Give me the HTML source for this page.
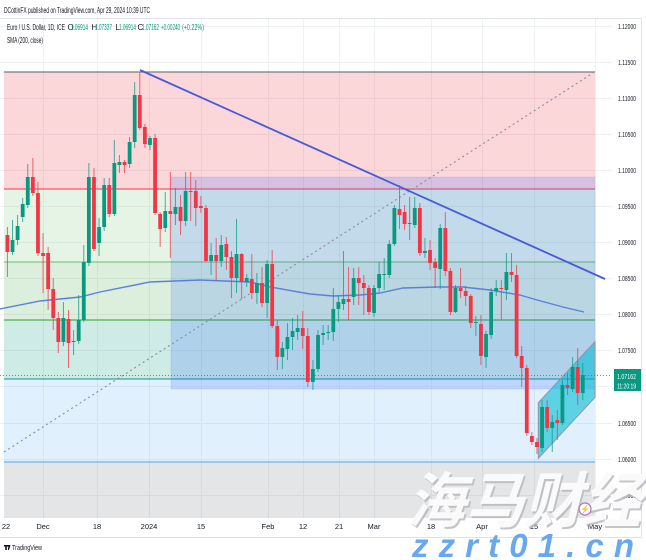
<!DOCTYPE html>
<html>
<head>
<meta charset="utf-8">
<style>
html,body{margin:0;padding:0;background:#fff;}
svg{display:block;font-family:"Liberation Sans",sans-serif;}
</style>
</head>
<body>
<svg id="s" width="646" height="560" viewBox="0 0 646 560" xmlns="http://www.w3.org/2000/svg">
<defs>
<clipPath id="pane"><rect x="0" y="18" width="612" height="500"/></clipPath>
</defs>
<rect x="0" y="0" width="646" height="560" fill="#fff"/>

<!-- grid -->
<g stroke="#eef0f4" stroke-width="1">
<line x1="0" y1="26.5" x2="612" y2="26.5"/>
<line x1="0" y1="62.5" x2="612" y2="62.5"/>
<line x1="0" y1="98.5" x2="612" y2="98.5"/>
<line x1="0" y1="134.5" x2="612" y2="134.5"/>
<line x1="0" y1="170.5" x2="612" y2="170.5"/>
<line x1="0" y1="206.5" x2="612" y2="206.5"/>
<line x1="0" y1="242.5" x2="612" y2="242.5"/>
<line x1="0" y1="278.5" x2="612" y2="278.5"/>
<line x1="0" y1="314.5" x2="612" y2="314.5"/>
<line x1="0" y1="350.5" x2="612" y2="350.5"/>
<line x1="0" y1="386.5" x2="612" y2="386.5"/>
<line x1="0" y1="423.5" x2="612" y2="423.5"/>
<line x1="0" y1="459.5" x2="612" y2="459.5"/>
<line x1="0" y1="495.5" x2="612" y2="495.5"/>
<line x1="43.5" y1="18" x2="43.5" y2="518"/>
<line x1="97.5" y1="18" x2="97.5" y2="518"/>
<line x1="149.5" y1="18" x2="149.5" y2="518"/>
<line x1="201.5" y1="18" x2="201.5" y2="518"/>
<line x1="268.5" y1="18" x2="268.5" y2="518"/>
<line x1="303.5" y1="18" x2="303.5" y2="518"/>
<line x1="339.5" y1="18" x2="339.5" y2="518"/>
<line x1="374.5" y1="18" x2="374.5" y2="518"/>
<line x1="431.5" y1="18" x2="431.5" y2="518"/>
<line x1="482.5" y1="18" x2="482.5" y2="518"/>
<line x1="534.5" y1="18" x2="534.5" y2="518"/>
<line x1="595.5" y1="18" x2="595.5" y2="518"/>
</g>

<!-- fib bands -->
<g>
<rect x="4" y="72" width="591" height="117" fill="rgba(242,54,69,0.2)"/>
<rect x="4" y="189" width="591" height="73" fill="rgba(129,199,132,0.2)"/>
<rect x="4" y="262" width="591" height="58" fill="rgba(76,175,80,0.2)"/>
<rect x="4" y="320" width="591" height="59" fill="rgba(8,153,129,0.2)"/>
<rect x="4" y="379" width="591" height="83" fill="rgba(100,181,246,0.2)"/>
<rect x="4" y="462" width="591" height="56" fill="rgba(120,123,134,0.2)"/>
</g>
<g stroke-width="1.2">
<line x1="4" y1="72" x2="595" y2="72" stroke="#787b86"/>
<line x1="4" y1="189" x2="595" y2="189" stroke="#f23645" stroke-opacity="0.8"/>
<line x1="4" y1="262" x2="595" y2="262" stroke="#81c784"/>
<line x1="4" y1="320" x2="595" y2="320" stroke="#4caf50"/>
<line x1="4" y1="379" x2="595" y2="379" stroke="#089981" stroke-opacity="0.8"/>
<line x1="4" y1="462" x2="595" y2="462" stroke="#64b5f6"/>
</g>

<!-- blue rectangle -->
<rect x="171" y="177" width="424" height="212" fill="rgba(41,98,255,0.18)" stroke="rgba(41,98,255,0.12)" stroke-width="1"/>

<!-- dotted diagonal -->
<line x1="4" y1="452" x2="593" y2="73" stroke="#8a8d97" stroke-width="1.1" stroke-dasharray="2,3"/>

<!-- SMA 200 -->
<polyline fill="none" stroke="#5a80dc" stroke-width="1.4" points="0,309 40,301 80,297 100,292 150,282 200,280 250,282 270,287 310,294 333,296 360,295 380,293 403,288 437,287 463,287 490,290 520,295 537,300 563,307 584,312"/>

<!-- downtrend line -->
<g clip-path="url(#pane)">
<line x1="140" y1="70" x2="605" y2="279" stroke="#4759da" stroke-width="1.8"/>
</g>

<!-- channel -->
<polygon points="538.3,402.7 595,341.7 595,397.3 538.3,458.3" fill="rgba(0,188,212,0.58)" stroke="#9a8fa8" stroke-width="1"/>

<!-- price line -->
<line x1="0" y1="375.5" x2="612" y2="375.5" stroke="#089981" stroke-width="1" stroke-dasharray="1,2" stroke-opacity="0.8"/>

<!-- candles -->
<g id="c"></g>

<!-- pane borders -->
<line x1="0" y1="18.5" x2="642" y2="18.5" stroke="#e0e3eb"/>
<line x1="641.5" y1="18" x2="641.5" y2="537" stroke="#e0e3eb"/>
<line x1="0" y1="537.5" x2="642" y2="537.5" stroke="#e0e3eb"/>

<!-- header -->
<text x="4" y="13" font-size="8" fill="#131722" textLength="146" lengthAdjust="spacingAndGlyphs">DCottinFX published on TradingView.com, Apr 29, 2024 10:39 UTC</text>
<g font-size="8" fill="#131722">
<text x="7" y="30" textLength="58" lengthAdjust="spacingAndGlyphs">Euro / U.S. Dollar, 1D, ICE</text>
<text x="67.5" y="30">O</text>
<text x="71" y="30" fill="#089981" textLength="17" lengthAdjust="spacingAndGlyphs">1.06914</text>
<text x="91.5" y="30">H</text>
<text x="95" y="30" fill="#089981" textLength="17" lengthAdjust="spacingAndGlyphs">1.07337</text>
<text x="115.5" y="30">L</text>
<text x="119" y="30" fill="#089981" textLength="17" lengthAdjust="spacingAndGlyphs">1.06914</text>
<text x="137.5" y="30">C</text>
<text x="142" y="30" fill="#089981" textLength="17" lengthAdjust="spacingAndGlyphs">1.07162</text>
<text x="161" y="30" fill="#089981" textLength="19" lengthAdjust="spacingAndGlyphs">+0.00240</text>
<text x="182" y="30" fill="#089981" textLength="22" lengthAdjust="spacingAndGlyphs">(+0.22%)</text>
<text x="7" y="43" textLength="36" lengthAdjust="spacingAndGlyphs">SMA (200, close)</text>
</g>

<!-- price axis -->
<g font-size="7.5" fill="#131722">
<text x="618" y="29" textLength="18" lengthAdjust="spacingAndGlyphs">1.12000</text>
<text x="618" y="65" textLength="18" lengthAdjust="spacingAndGlyphs">1.11500</text>
<text x="618" y="101" textLength="18" lengthAdjust="spacingAndGlyphs">1.11000</text>
<text x="618" y="137" textLength="18" lengthAdjust="spacingAndGlyphs">1.10500</text>
<text x="618" y="173" textLength="18" lengthAdjust="spacingAndGlyphs">1.10000</text>
<text x="618" y="209" textLength="18" lengthAdjust="spacingAndGlyphs">1.09500</text>
<text x="618" y="245" textLength="18" lengthAdjust="spacingAndGlyphs">1.09000</text>
<text x="618" y="281" textLength="18" lengthAdjust="spacingAndGlyphs">1.08500</text>
<text x="618" y="317" textLength="18" lengthAdjust="spacingAndGlyphs">1.08000</text>
<text x="618" y="353" textLength="18" lengthAdjust="spacingAndGlyphs">1.07500</text>
<text x="618" y="426" textLength="18" lengthAdjust="spacingAndGlyphs">1.06500</text>
<text x="618" y="462" textLength="18" lengthAdjust="spacingAndGlyphs">1.06000</text>
<text x="618" y="498" textLength="18" lengthAdjust="spacingAndGlyphs">1.05500</text>
</g>
<rect x="614" y="369" width="27" height="22" fill="#089981"/>
<text x="617" y="379" font-size="7.5" fill="#fff" textLength="19" lengthAdjust="spacingAndGlyphs">1.07162</text>
<text x="617" y="388.5" font-size="7.5" fill="#fff" textLength="19" lengthAdjust="spacingAndGlyphs">11:20:19</text>

<!-- time axis -->
<g font-size="7.5" fill="#131722" text-anchor="middle">
<text x="6" y="529">22</text>
<text x="43" y="529">Dec</text>
<text x="97" y="529">18</text>
<text x="149" y="529">2024</text>
<text x="201" y="529">15</text>
<text x="268" y="529">Feb</text>
<text x="303" y="529">12</text>
<text x="339" y="529">21</text>
<text x="374" y="529">Mar</text>
<text x="431" y="529">18</text>
<text x="482" y="529">Apr</text>
<text x="534" y="529">15</text>
<text x="595" y="529">May</text>
</g>

<!-- TV logo -->
<g fill="#131722">
<rect x="4" y="545" width="4" height="1.6"/>
<rect x="5.2" y="545" width="1.6" height="5"/>
<polygon points="8.5,545 10.5,545 9,550 7.8,550"/>
<circle cx="8.2" cy="545.8" r="0.8"/>
</g>
<text x="12" y="550" font-size="7.5" fill="#131722" textLength="30" lengthAdjust="spacingAndGlyphs">TradingView</text>

<!-- watermark -->
<g transform="translate(407,522) skewX(-14)">
<text x="2" y="2" font-family="'Liberation Sans','Noto Sans CJK SC',sans-serif" font-weight="bold" font-size="60" fill="#b4b6bb" fill-opacity="0.8" textLength="234" lengthAdjust="spacingAndGlyphs">海马财经</text>
<text x="0" y="0" font-family="'Liberation Sans','Noto Sans CJK SC',sans-serif" font-weight="bold" font-size="60" fill="#fafafa" textLength="234" lengthAdjust="spacingAndGlyphs">海马财经</text>
</g>
<circle cx="585" cy="509" r="6" fill="#fff" stroke="#b06ad6" stroke-width="1.2"/>
<text x="585" y="512" font-size="8" fill="#b06ad6" text-anchor="middle">⚡</text>
<text x="412" y="557" font-family="'Liberation Sans',sans-serif" font-weight="bold" font-style="italic" font-size="33" fill="#68a8ee" textLength="222" lengthAdjust="spacing">zzrt01.cn</text>
</svg>

<script>
(function(){
var d=[[235,252,227,277],[252,240,220,255],[240,226,215,245],[217,204,198,222],[205,177,164,208],[177,193,158,196],[193,253,182,256],[253,256,233,293],[253,289,247,310],[289,318,278,330],
[318,342,312,353],[342,318,302,346],[319,343,310,368],[342,341,330,355],[341,320,295,344],[320,262,245,322],[263,177,163,266],[177,249,168,251],[243,227,218,256],[227,185,178,231],
[185,214,178,217],[214,163,140,216],[165,162,155,173],[162,165,160,173],[164,142,137,168],[142,95,82,148],[95,128,72,130],[127,144,124,148],[145,138,136,150],[138,213,134,215],
[214,229,212,247],[228,211,192,232],[211,214,172,258],[214,207,188,225],[207,221,195,235],[221,191,172,226],[191,192,172,221],[191,208,180,226],[206,208,196,213],[208,261,205,262],
[261,255,243,275],[255,261,238,281],[261,245,235,267],[244,257,237,270],[257,278,251,298],[278,254,219,293],[254,282,253,299],[282,278,274,287],[279,293,254,299],[293,283,273,304],
[283,303,267,307],[303,264,260,318],[264,326,250,328],[326,357,320,370],[357,348,342,369],[349,337,323,360],[337,331,318,350],[332,328,315,340],[328,336,311,349],[336,382,328,387],
[382,369,360,390],[369,335,330,372],[335,333,325,345],[333,332,325,340],[332,309,288,341],[309,302,296,322],[304,299,251,310],[299,302,267,320],[297,278,268,305],[278,283,267,305],
[283,288,275,315],[288,312,285,315],[313,288,285,317],[288,274,262,292],[275,274,258,290],[275,244,240,278],[244,208,205,246],[209,215,185,229],[212,224,205,230],[223,223,197,240],
[225,208,197,228],[208,253,203,256],[253,251,238,258],[250,263,240,270],[262,268,258,288],[269,228,224,289],[228,271,212,276],[271,312,268,315],[312,288,285,313],[288,291,268,298],
[291,296,286,306],[296,323,294,328],[323,322,316,336],[324,356,315,365],[357,334,331,368],[335,292,288,339],[291,288,280,296],[288,289,280,320],[290,272,253,300],[272,275,253,282],
[275,356,265,358],[356,368,346,387],[368,433,365,436],[436,442,432,445],[442,447,438,454],[448,407,400,452],[407,428,400,432],[428,422,415,452],[420,423,410,440],[423,385,380,425],
[385,388,373,395],[389,367,357,392],[367,393,348,405],[393,375,363,400]];
var NS="http://www.w3.org/2000/svg",g=document.getElementById("c");
for(var i=0;i<d.length;i++){
 var o=d[i][0],c=d[i][1],h=d[i][2],l=d[i][3];
 var x=7.4+i*5.092;
 var col=(c>o)?"#f23645":"#089981";
 var w=document.createElementNS(NS,"line");
 w.setAttribute("x1",x);w.setAttribute("x2",x);w.setAttribute("y1",h);w.setAttribute("y2",l);
 w.setAttribute("stroke",col);w.setAttribute("stroke-width","1");w.setAttribute("stroke-opacity","0.75");
 g.appendChild(w);
 var r=document.createElementNS(NS,"rect");
 var t=Math.min(o,c),bh=Math.max(1,Math.abs(c-o));
 r.setAttribute("x",x-1.9);r.setAttribute("y",t);r.setAttribute("width","3.8");r.setAttribute("height",bh);
 r.setAttribute("fill",col);
 g.appendChild(r);
}
})();
</script>
</body>
</html>
